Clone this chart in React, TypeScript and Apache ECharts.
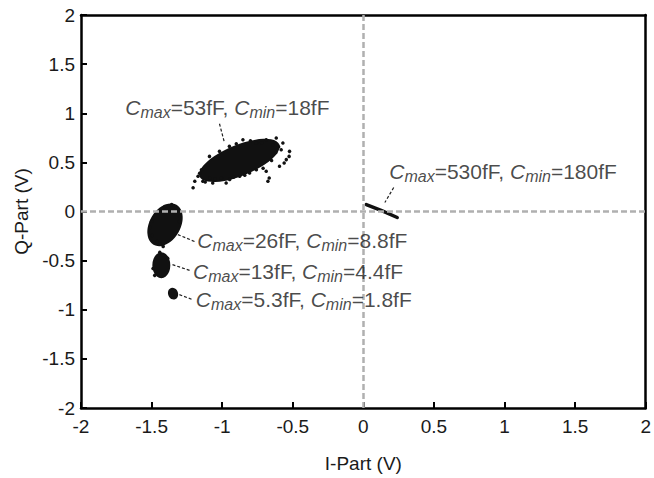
import React, { useEffect, useRef } from 'react';
import * as echarts from 'echarts';

// ---- data ----
const axisMin = -2;
const axisMax = 2;
const tickStep = 0.5;

// dense cluster centres (I, Q) in volts
const coreCenters: [number, number][] = [
  [-0.878, 0.52], // 53fF
  [-1.405, -0.135], // 26fF
  [-1.431, -0.548], // 13fF
  [-1.348, -0.836], // 5.3fF
];

// 530fF cluster is a thin streak
const streak530: [number, number][] = [
  [0.021, 0.071],
  [0.13, 0.008],
  [0.24, -0.061],
];

// scattered points around the clusters
const fringe53: [number, number][] = [
  [-1.206, 0.241], [-1.194, 0.308], [-1.171, 0.358], [-1.147, 0.426],
  [-1.088, 0.342], [-1.006, 0.342], [-0.947, 0.325], [-0.876, 0.358],
  [-0.806, 0.393], [-0.758, 0.426], [-0.688, 0.409], [-0.594, 0.46],
  [-0.546, 0.528], [-0.523, 0.612], [-0.582, 0.629], [-0.617, 0.748],
  [-0.641, 0.68], [-0.688, 0.731], [-0.758, 0.697], [-0.853, 0.731],
  [-0.57, 0.697], [-0.676, 0.308], [-1.12, 0.3], [-1.05, 0.33],
  [-1.067, 0.291], [-1.137, 0.308], [-0.972, 0.291], [-0.526, 0.561],
  [-0.561, 0.494], [-0.667, 0.342], [-1.09, 0.561], [-1.019, 0.612],
  [-0.949, 0.663], [-0.9, 0.69], [-0.8, 0.72], [-0.72, 0.7],
  [-0.62, 0.6], [-0.6, 0.66], [-0.65, 0.52], [-0.71, 0.44],
  [-0.84, 0.37], [-0.92, 0.35], [-1.16, 0.39], [-1.1, 0.47],
];
const fringe26: [number, number][] = [
  [-1.496, -0.244], [-1.46, -0.305], [-1.418, -0.355], [-1.51, -0.162],
  [-1.305, -0.102], [-1.319, 0.0], [-1.358, 0.071], [-1.407, 0.051],
  [-1.3, -0.05], [-1.5, -0.1], [-1.44, -0.33],
];
const fringe13: [number, number][] = [
  [-1.478, -0.65], [-1.386, -0.477], [-1.442, -0.416], [-1.49, -0.58],
];

// annotations: anchor (left, middle) of text, Cmax, Cmin
const annoAnchors: [number, number][] = [
  [-1.69, 1.06],
  [0.18, 0.41],
  [-1.18, -0.294],
  [-1.21, -0.609],
  [-1.19, -0.893],
];
const annoCmax = ['53fF', '530fF', '26fF', '13fF', '5.3fF'];
const annoCmin = ['18fF', '180fF', '8.8fF', '4.4fF', '1.8fF'];

// arrows: [from, to]
const arrowFrom: [number, number][] = [
  [-1.019, 0.893],
  [0.215, 0.244],
  [-1.196, -0.305],
  [-1.231, -0.599],
  [-1.217, -0.893],
];
const arrowTo: [number, number][] = [
  [-0.984, 0.701],
  [0.152, 0.091],
  [-1.316, -0.234],
  [-1.358, -0.538],
  [-1.309, -0.843],
];

// ---- styling ----
const coreStyles = [
  { size: [86, 31], rotate: 22 },
  { size: [46, 31], rotate: 60 },
  { size: [18, 26], rotate: 0 },
  { size: [10, 12], rotate: 20 },
];

const FONT = 'Liberation Sans, Arial, Helvetica, sans-serif';
const INK = '#111';
const TEXT = '#1a1a1a';

export default function App() {
  const ref = useRef<HTMLDivElement>(null);

  useEffect(() => {
    if (!ref.current) return;
    const chart = echarts.init(ref.current, undefined, { renderer: 'svg' });

    const axisCommon = {
      type: 'value' as const,
      min: axisMin,
      max: axisMax,
      interval: tickStep,
      nameLocation: 'middle' as const,
      nameTextStyle: { fontFamily: FONT, fontSize: 19, color: TEXT },
      axisLine: { show: true, onZero: false, lineStyle: { color: '#000', width: 2.5 } },
      axisTick: { show: true, inside: true, length: 6, lineStyle: { color: '#000', width: 2 } },
      axisLabel: { fontFamily: FONT, fontSize: 19, color: TEXT },
      splitLine: { show: false },
    };
    const frameAxis = {
      type: 'value' as const,
      min: axisMin,
      max: axisMax,
      interval: tickStep,
      axisLine: { show: true, onZero: false, lineStyle: { color: '#000', width: 2.5 } },
      axisTick: { show: false },
      axisLabel: { show: false },
      splitLine: { show: false },
    };

    const rich = {
      c: { fontFamily: FONT, fontSize: 21, fontStyle: 'italic', color: TEXT, lineHeight: 26 },
      n: { fontFamily: FONT, fontSize: 21, color: TEXT, lineHeight: 26 },
      s: {
        fontFamily: FONT,
        fontSize: 16,
        fontStyle: 'italic',
        color: TEXT,
        lineHeight: 16,
        padding: [10, 0, 0, 0],
      },
    };

    const option: any = {
      animation: false,
      backgroundColor: '#fff',
      grid: {
        left: 81,
        right: 6,
        top: 15,
        bottom: 69,
        show: false,
        containLabel: false,
      },
      xAxis: [
        {
          ...axisCommon,
          name: 'I-Part (V)',
          nameGap: 46,
          axisLabel: { ...axisCommon.axisLabel, margin: 9 },
        },
        { ...frameAxis, position: 'top' },
      ],
      yAxis: [
        {
          ...axisCommon,
          name: 'Q-Part (V)',
          nameGap: 50,
          axisLabel: { ...axisCommon.axisLabel, margin: 6 },
        },
        { ...frameAxis, position: 'right' },
      ],
      series: [
        {
          // zero reference lines
          type: 'scatter',
          data: [],
          z: 1,
          markLine: {
            silent: true,
            symbol: 'none',
            label: { show: false },
            lineStyle: { color: '#b0b0b0', type: [6, 3], width: 2.5 },
            data: [{ xAxis: 0 }, { yAxis: 0 }],
          },
        },
        {
          type: 'scatter',
          z: 3,
          silent: true,
          data: coreCenters.map((c, i) => ({
            value: c,
            symbol: 'circle',
            symbolSize: coreStyles[i].size,
            symbolRotate: coreStyles[i].rotate,
          })),
          itemStyle: { color: INK, opacity: 1 },
        },
        {
          type: 'scatter',
          z: 3,
          silent: true,
          symbol: 'circle',
          symbolSize: 3.5,
          data: [...fringe53, ...fringe26, ...fringe13],
          itemStyle: { color: INK, opacity: 1 },
        },
        {
          type: 'line',
          z: 3,
          silent: true,
          symbol: 'none',
          data: streak530,
          lineStyle: { color: INK, width: 3.5, cap: 'round' },
        },
        {
          // arrows
          type: 'scatter',
          data: [],
          z: 4,
          markLine: {
            silent: true,
            symbol: ['none', 'arrow'],
            symbolSize: [0, 7],
            label: { show: false },
            lineStyle: { color: '#222', type: [3, 2], width: 1.2 },
            data: arrowFrom.map((f, i) => [{ coord: f }, { coord: arrowTo[i] }]),
          },
        },
        {
          // annotation texts
          type: 'scatter',
          z: 5,
          silent: true,
          symbolSize: 1,
          itemStyle: { color: 'rgba(0,0,0,0)' },
          data: annoAnchors.map((a, i) => ({
            value: a,
            label: {
              show: true,
              position: 'right',
              distance: 0,
              formatter: `{c|C}{s|max}{n|=${annoCmax[i]}, }{c|C}{s|min}{n|=${annoCmin[i]}}`,
              rich,
            },
          })),
        },
      ],
    };

    chart.setOption(option);
    return () => chart.dispose();
  }, []);

  return (
    <div
      ref={ref}
      style={{ position: 'fixed', left: 0, top: 0, width: 654, height: 478, background: '#fff' }}
    />
  );
}
